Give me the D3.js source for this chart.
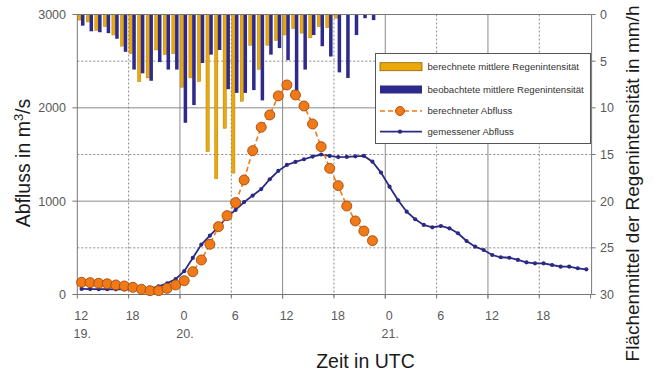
<!DOCTYPE html>
<html><head><meta charset="utf-8">
<script src="https://cdn.jsdelivr.net/npm/d3@7"></script>
<style>
html,body{margin:0;padding:0;background:#fff;}
svg{display:block;font-family:"Liberation Sans",Arial,sans-serif;}
</style>
</head><body>
<svg id="c" width="654" height="376"></svg>
<script>
// ---- data ----
const hourTicks = [0, 6, 12, 18, 24, 30, 36, 42, 48, 54];
const hourTickLabels = ["12", "18", "0", "6", "12", "18", "0", "6", "12", "18"];
const dateTickHours = [0, 12, 36];
const dateTickLabels = ["19.", "20.", "21."];
const flowTicks = [0, 1000, 2000, 3000];
const flowGrid = [500, 1000, 1500, 2000, 2500];
const rainTicks = [0, 5, 10, 15, 20, 25, 30];
const gridHours = [6, 12, 18, 24, 30, 36, 42, 48, 54];

// hourly rain intensity (mm/h), hours since 19. 12 UTC
const rainCalc = [0.6, 0.8, 1.7, 1.3, 2.2, 3.4, 4.2, 7.2, 6.8, 3.8, 4.3, 4.2, 7.8, 6.8, 7.2, 14.7, 17.6, 12.2, 17.0, 9.3,
  3.3, 5.9, 3.3, 2.8, 2.2, 1.5, 2.0, 2.5, 1.3, 1.4, 0.4, 0, 0, 0, 0];
const rainObs = [1.2, 1.8, 1.9, 2.0, 2.6, 4.0, 5.9, 6.3, 7.1, 5.1, 5.9, 5.9, 11.6, 9.7, 5.2, 4.3, 3.8, 8.0, 8.4, 8.4,
  8.1, 9.2, 4.3, 3.6, 4.9, 8.8, 5.9, 2.2, 3.4, 4.5, 6.2, 6.8, 2.2, 0.4, 0.6];

// discharge (m3/s), hourly values at half hours
const flowCalc = [131, 127, 120, 115, 102, 91, 77, 56, 41, 41, 66, 102, 148, 244, 370, 538, 727, 845, 984, 1227,
  1541, 1792, 1924, 2128, 2245, 2138, 2020, 1827, 1584, 1352, 1166, 948, 788, 680, 577];
const flowObs = [60, 58, 57, 56, 55, 54, 52, 50, 62, 88, 120, 165, 250, 392, 535, 630, 725, 830, 906, 990,
  1060, 1130, 1235, 1325, 1388, 1420, 1449, 1478, 1500, 1485, 1472, 1474, 1480, 1485, 1423, 1306, 1155, 1010, 887, 806,
  745, 720, 734, 709, 656, 573, 512, 477, 423, 399, 394, 370, 345, 334, 334, 316, 298, 298, 281, 270];

const legendLabels = ["berechnete mittlere Regenintensität", "beobachtete mittlere Regenintensität", "berechneter Abfluss", "gemessener Abfluss"];

// ---- colours ----
const cCalcBar = "#EBA80A", cObsBar = "#2D2A8C", cCalcLine = "#F07A18", cObsLine = "#2A2A85";
const cGrid = "#8a8a8a", cAxis = "#777";

const svg = d3.select("#c");
const x = d3.scaleLinear().domain([0, 60]).range([77.3, 590.6]);
const yL = d3.scaleLinear().domain([0, 3000]).range([294.5, 14.5]);
const yR = d3.scaleLinear().domain([0, 30]).range([14.5, 294.5]);

// grid
const g = svg.append("g");
g.selectAll(".hg").data(flowGrid).join("line")
  .attr("x1", x(0)).attr("x2", x(60)).attr("y1", d => yL(d)).attr("y2", d => yL(d))
  .attr("stroke", cGrid).attr("stroke-width", 1)
  .attr("stroke-dasharray", d => d % 1000 === 0 ? null : "2,2");
g.selectAll(".vg").data(gridHours).join("line")
  .attr("x1", d => x(d)).attr("x2", d => x(d)).attr("y1", yL(3000)).attr("y2", yL(0) + 4)
  .attr("stroke", cGrid).attr("stroke-width", 1)
  .attr("stroke-dasharray", d => d % 12 === 0 ? null : "2,2");

// bars
const bars = svg.append("g");
bars.selectAll(".bc").data(rainCalc).join("rect")
  .attr("x", (d, i) => x(i + 0.04)).attr("width", (d, i) => x(i + 0.43) - x(i + 0.04))
  .attr("y", yR(0)).attr("height", d => yR(d) - yR(0))
  .attr("fill", cCalcBar).attr("stroke", "#a77a00").attr("stroke-width", 0.4);
bars.selectAll(".bo").data(rainObs).join("rect")
  .attr("x", (d, i) => x(i + 0.43)).attr("width", (d, i) => x(i + 0.84) - x(i + 0.43))
  .attr("y", yR(0)).attr("height", d => yR(d) - yR(0))
  .attr("fill", cObsBar);

// frame / axes
const ax = svg.append("g").attr("stroke", cAxis).attr("stroke-width", 1).attr("fill", "none");
ax.append("line").attr("x1", x(0)).attr("x2", x(60) + 1).attr("y1", yL(3000)).attr("y2", yL(3000));
ax.append("line").attr("x1", x(0)).attr("x2", x(60) + 1).attr("y1", yL(0)).attr("y2", yL(0));
ax.append("line").attr("x1", x(0)).attr("x2", x(0)).attr("y1", yL(3000)).attr("y2", yL(0));
ax.append("line").attr("x1", x(60) + 1).attr("x2", x(60) + 1).attr("y1", yL(3000)).attr("y2", yL(0));
ax.selectAll(".lt").data(flowTicks).join("line")
  .attr("x1", x(0) - 5).attr("x2", x(0)).attr("y1", d => yL(d)).attr("y2", d => yL(d));
ax.selectAll(".rt").data(rainTicks).join("line")
  .attr("x1", x(60) + 1).attr("x2", x(60) + 5).attr("y1", d => yR(d)).attr("y2", d => yR(d));
ax.selectAll(".bt").data([0].concat(gridHours, [60])).join("line")
  .attr("x1", d => x(d)).attr("x2", d => x(d)).attr("y1", yL(0)).attr("y2", yL(0) + 4);

// tick labels
const tl = svg.append("g").attr("fill", "#5a5a5a").attr("font-size", 12.5);
tl.selectAll(".ll").data(flowTicks).join("text")
  .attr("x", 66).attr("y", d => yL(d)).attr("dy", "0.35em").attr("text-anchor", "end").text(d => d);
tl.selectAll(".rl").data(rainTicks).join("text")
  .attr("x", 600).attr("y", d => yR(d)).attr("dy", "0.35em").text(d => d);
tl.selectAll(".xl").data(hourTicks).join("text")
  .attr("x", d => x(d) + 4).attr("y", 320).attr("text-anchor", "middle")
  .text((d, i) => hourTickLabels[i]);
tl.selectAll(".dl").data(dateTickHours).join("text")
  .attr("x", d => x(d) + 5).attr("y", 338).attr("text-anchor", "middle")
  .text((d, i) => dateTickLabels[i]);

// axis titles
const tt = svg.append("g").attr("fill", "#1a1a1a").attr("font-size", 19.5);
tt.append("text").attr("transform", "translate(30,163) rotate(-90)").attr("text-anchor", "middle")
  .html('Abfluss in m<tspan font-size="13" dy="-7">3</tspan><tspan dy="7">/s</tspan>');
tt.append("text").attr("transform", "translate(639,183.5) rotate(-90)").attr("text-anchor", "middle")
  .attr("font-size", 19).text("Flächenmittel der Regenintensität in mm/h");
tt.append("text").attr("x", 365.5).attr("y", 368).attr("text-anchor", "middle").attr("font-size", 19.5).text("Zeit in UTC");

// lines
const lineObs = d3.line().x((d, i) => x(i + 0.5)).y(d => yL(d));
svg.append("path").datum(flowObs).attr("d", lineObs)
  .attr("fill", "none").attr("stroke", cObsLine).attr("stroke-width", 1.8);
svg.append("g").selectAll("circle").data(flowObs).join("circle")
  .attr("cx", (d, i) => x(i + 0.5)).attr("cy", d => yL(d)).attr("r", 2.1).attr("fill", cObsLine);

const lineCalc = d3.line().x((d, i) => x(i + 0.5)).y(d => yL(d));
svg.append("path").datum(flowCalc).attr("d", lineCalc)
  .attr("fill", "none").attr("stroke", cCalcLine).attr("stroke-width", 1.6).attr("stroke-dasharray", "5,3");
svg.append("g").selectAll("circle").data(flowCalc).join("circle")
  .attr("cx", (d, i) => x(i + 0.5)).attr("cy", d => yL(d)).attr("r", 5)
  .attr("fill", cCalcLine).attr("stroke", "#A84A08").attr("stroke-width", 0.9);

// legend
const lg = svg.append("g");
lg.append("rect").attr("x", 375.5).attr("y", 53.5).attr("width", 215).attr("height", 90)
  .attr("fill", "#fff").attr("stroke", "#555").attr("stroke-width", 1);
const rowsY = [66.7, 89.5, 111, 131.7];
lg.append("rect").attr("x", 380).attr("y", rowsY[0] - 4).attr("width", 42).attr("height", 8)
  .attr("fill", cCalcBar).attr("stroke", "#8a6400").attr("stroke-width", 0.8);
lg.append("rect").attr("x", 380).attr("y", rowsY[1] - 4).attr("width", 42).attr("height", 8)
  .attr("fill", cObsBar);
lg.append("line").attr("x1", 380).attr("x2", 422).attr("y1", rowsY[2]).attr("y2", rowsY[2])
  .attr("stroke", cCalcLine).attr("stroke-width", 1.6).attr("stroke-dasharray", "5,3");
lg.append("circle").attr("cx", 400).attr("cy", rowsY[2]).attr("r", 4.5)
  .attr("fill", cCalcLine).attr("stroke", "#A84A08").attr("stroke-width", 0.9);
lg.append("line").attr("x1", 380).attr("x2", 422).attr("y1", rowsY[3]).attr("y2", rowsY[3])
  .attr("stroke", cObsLine).attr("stroke-width", 1.8);
lg.append("circle").attr("cx", 400).attr("cy", rowsY[3]).attr("r", 2.1).attr("fill", cObsLine);
lg.selectAll(".lt").data(legendLabels).join("text")
  .attr("x", 427.5).attr("y", (d, i) => rowsY[i]).attr("dy", "0.35em")
  .attr("font-size", 9.6).attr("fill", "#333").text(d => d);
</script>
</body></html>
